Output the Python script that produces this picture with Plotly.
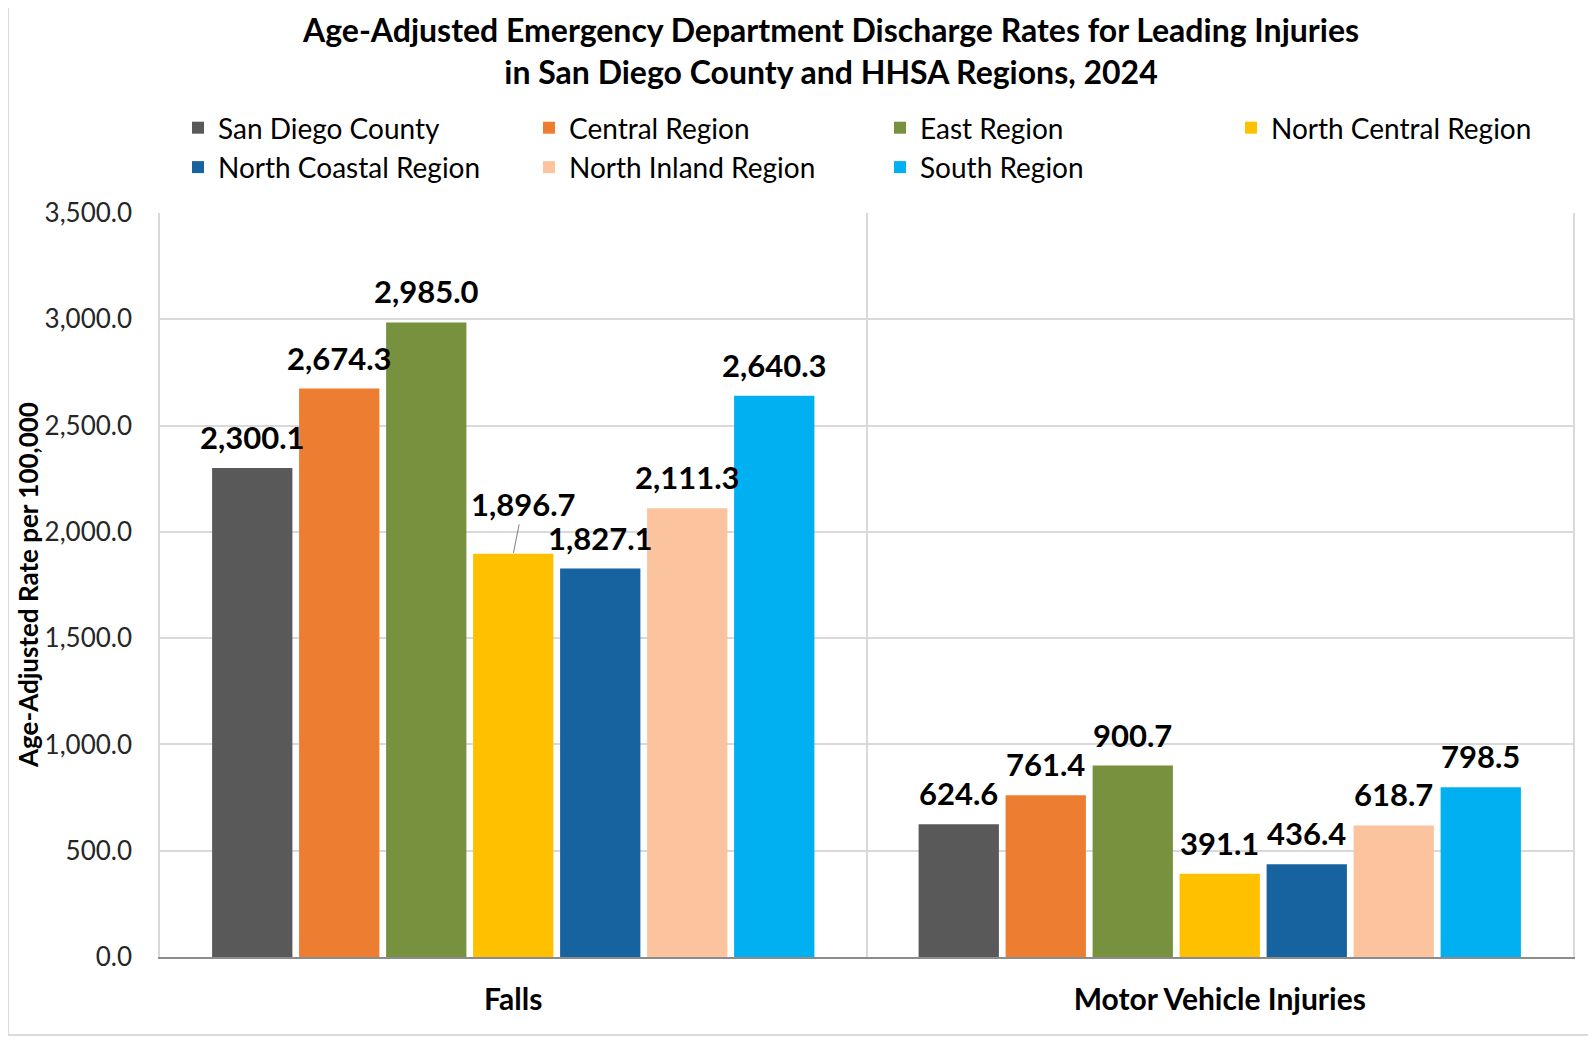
import plotly.graph_objects as go

categories = ["Falls", "Motor Vehicle Injuries"]
series_names = ["San Diego County", "Central Region", "East Region", "North Central Region",
                "North Coastal Region", "North Inland Region", "South Region"]
falls = [2300.1, 2674.3, 2985.0, 1896.7, 1827.1, 2111.3, 2640.3]
motor_vehicle = [624.6, 761.4, 900.7, 391.1, 436.4, 618.7, 798.5]
colors = ["#595959", "#ED7D31", "#78913F", "#FFC000", "#1763A0", "#FBC49E", "#00B0F0"]
y_ticks = [0, 500, 1000, 1500, 2000, 2500, 3000, 3500]

FONT = "Lato"
W, H = 1588, 1029          # page body has an 8px margin
L, R, T, B = 152, 23, 205, 80
PW, PH = W - L - R, H - T - B
BARGAP, BARGROUPGAP = 0.138, 0.077
n = len(series_names)
slot = (1 - BARGAP) / n

fig = go.Figure()
for i, name in enumerate(series_names):
    fig.add_trace(go.Bar(
        name=name, x=categories, y=[falls[i], motor_vehicle[i]],
        marker_color=colors[i], marker_line_width=0,
    ))

label_font = dict(family=FONT, size=31, color="#000000")
for ci, vals in enumerate([falls, motor_vehicle]):
    for i, v in enumerate(vals):
        xpos = ci + (i - (n - 1) / 2) * slot
        if ci == 0 and series_names[i] == "North Central Region":
            fig.add_annotation(
                x=xpos, y=v, text=f"<b>{v:,.1f}</b>",
                showarrow=True, arrowhead=0, arrowwidth=1, arrowcolor="#7f7f7f",
                ax=10, ay=-50, standoff=1, font=label_font,
            )
        else:
            fig.add_annotation(
                x=xpos, y=v, text=f"<b>{v:,.1f}</b>", showarrow=False,
                yanchor="bottom", yshift=10, font=label_font,
            )

fig.add_annotation(
    xref="paper", yref="paper", x=(20 - L) / PW, y=0.5, xanchor="center", yanchor="middle",
    text="<b>Age-Adjusted Rate per 100,000</b>", textangle=-90, showarrow=False,
    font=dict(family=FONT, size=26, color="#000000"),
)

# title: centre placed 43 px below the top of the figure
fig.add_annotation(
    xref="paper", yref="paper", x=(822 - L) / PW, y=(H - B - 43) / PH,
    xanchor="center", yanchor="middle", showarrow=False,
    text="<b>Age-Adjusted Emergency Department Discharge Rates for Leading Injuries<br>in San Diego County and HHSA Regions, 2024</b>",
    font=dict(family=FONT, size=32, color="#000000"),
)

fig.update_layout(
    width=W, height=H,
    paper_bgcolor="white", plot_bgcolor="white",
    margin=dict(l=L, r=R, t=T, b=B),
    barmode="group", bargap=BARGAP, bargroupgap=BARGROUPGAP,
    showlegend=True,
    legend=dict(
        orientation="h", xref="paper", yref="paper",
        x=(170 - L) / PW, xanchor="left", y=(H - B - 95) / PH, yanchor="top",
        entrywidth=306, entrywidthmode="pixels",
        font=dict(family=FONT, size=28, color="#000000"),
        bgcolor="rgba(0,0,0,0)", itemclick=False,
    ),
    xaxis=dict(
        showgrid=True, gridcolor="#d9d9d9", gridwidth=1.5, tickson="boundaries",
        ticks="", showline=True, linecolor="#8c8c8c", linewidth=1.5,
        tickfont=dict(family=FONT, size=30, color="#000000", weight="bold"),
        ticklabelstandoff=15,
    ),
    yaxis=dict(
        range=[0, 3500], tickvals=y_ticks, tickformat=",.1f",
        showgrid=True, gridcolor="#d9d9d9", gridwidth=1.5, zeroline=False,
        showline=True, linecolor="#d9d9d9", linewidth=1.5, mirror=True,
        tickfont=dict(family=FONT, size=26, color="#262626"),
        ticklabelstandoff=21,
    ),
    shapes=[dict(type="rect", xref="paper", yref="paper",
                 x0=(0 - L) / PW, x1=(1582 - L) / PW,
                 y0=(H - B - 1027) / PH, y1=(H - B + 10) / PH,
                 line=dict(color="#d0d0d0", width=1.5), fillcolor="rgba(0,0,0,0)", layer="below")],
)

fig.write_html("out.html")
